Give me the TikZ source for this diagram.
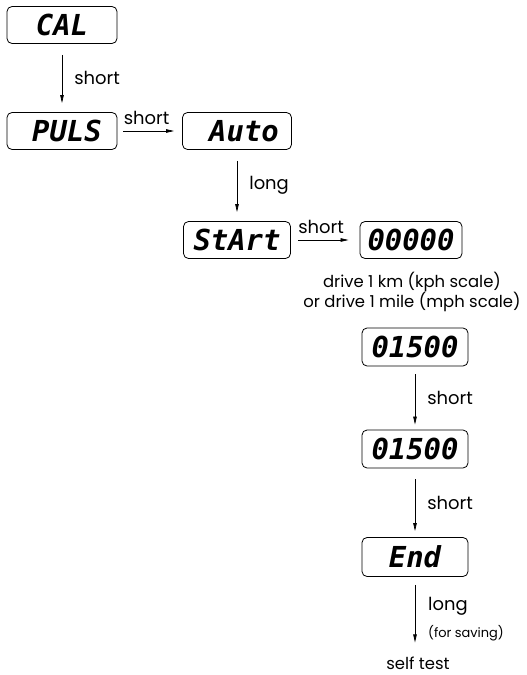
\documentclass[tikz,border=0pt]{standalone}
\usepackage{fontspec}
\setmainfont{Poppins}
\newfontfamily\segfont{DejaVu Sans Mono}
\usetikzlibrary{arrows.meta}
\begin{document}
\begin{tikzpicture}[x=1bp,y=-1bp,
  disp/.style={draw, line width=0.8bp, rounded corners=5bp, inner sep=0pt,
    minimum height=37bp, font=\segfont\bfseries\itshape\fontsize{29}{29}\selectfont},
  lbl/.style={font=\fontsize{18}{20}\selectfont, inner sep=0pt},
  note/.style={font=\fontsize{16.5}{19}\selectfont, inner sep=0pt},
  small/.style={font=\fontsize{13}{15}\selectfont, inner sep=0pt},
  arr/.style={line width=0.7bp, -{Triangle[length=8bp,width=3.5bp]}}]
\useasboundingbox (0,0) rectangle (527,675);
\node[disp, minimum width=110bp] (cal) at (62,25) {CAL};
\node[disp, minimum width=110bp] (puls) at (62,131) {\hspace*{10bp}PULS};
\node[disp, minimum width=109bp] (auto) at (237,131) {\hspace*{14bp}Auto};
\node[disp, minimum width=107bp] (start) at (237,240) {StArt};
\node[disp, minimum width=102bp] (zero) at (411,240) {00000};
\node[disp, minimum width=106bp, minimum height=38bp] (a) at (415,347) {01500};
\node[disp, minimum width=106bp, minimum height=38bp] (b) at (415,449) {01500};
\node[disp, minimum width=106bp, minimum height=39bp] (e) at (415,557) {End};
\node[note] (d1) at (412,282) {drive 1 km (kph scale)};
\node[note] (d2) at (412,302) {or drive 1 mile (mph scale)};
\node[note] (st) at (418,663) {self test};
\node[lbl, anchor=west] (lg) at (428,606) {long};
\node[small, anchor=west] (fs) at (428,633) {(for saving)};

\draw[arr, shorten <=11bp, shorten >=9bp] (cal) -- node[lbl, right=12bp]{short} (puls);
\draw[arr, shorten <=6bp, shorten >=8bp] (puls) -- node[lbl, pos=0, anchor=south west, xshift=6bp, yshift=6bp]{short} (auto);
\draw[arr, shorten <=11bp, shorten >=9bp] (auto) -- node[lbl, right=12bp]{long} (start);
\draw[arr, shorten <=7bp, shorten >=11bp] (start) -- node[lbl, pos=0, anchor=south west, xshift=7bp, yshift=6bp]{short} (zero);
\draw[arr, shorten <=8bp, shorten >=5bp] (a) -- node[lbl, right=12bp]{short} (b);
\draw[arr, shorten <=11bp, shorten >=6bp] (b) -- node[lbl, right=12bp]{short} (e);
\draw[arr, shorten <=8bp, shorten >=14bp] (e) -- (e |- st.north);
\end{tikzpicture}
\end{document}
